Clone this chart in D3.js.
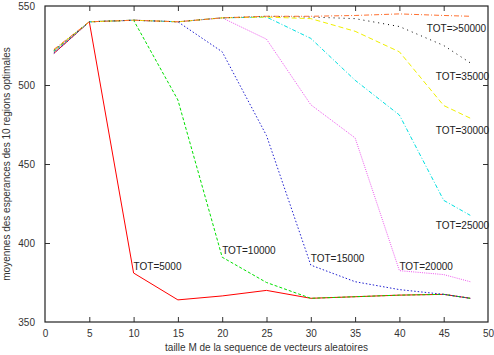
<!DOCTYPE html>
<html>
<head>
<meta charset="utf-8">
<script src="https://cdn.jsdelivr.net/npm/d3@7"></script>
<style>
  html, body { margin: 0; padding: 0; background: #fff; }
  svg { display: block; }
  text { font-family: "Liberation Sans", Arial, sans-serif; }
</style>
</head>
<body>
<svg id="chart" width="494" height="355"></svg>
<script>
// ---- data ----
const xValues = [1, 5, 10, 15, 20, 25, 30, 35, 40, 45, 48];
const seriesNames = ["TOT=5000", "TOT=10000", "TOT=15000", "TOT=20000", "TOT=25000", "TOT=30000", "TOT=35000", "TOT=>50000"];
const tot5000  = [520, 540, 381, 364, 366.5, 370, 365, 366, 367, 367.5, 365];
const tot10000 = [521, 540, 541, 490.5, 391, 375, 365, 366, 367, 367.5, 365];
const tot15000 = [520, 540, 541, 540, 521, 468, 386, 375.5, 370.5, 367.5, 365];
const tot20000 = [521, 540, 541, 540, 542.5, 529, 487.5, 466.5, 382.5, 380, 375.5];
const tot25000 = [521.5, 540, 541, 540, 542.5, 543, 529.5, 503, 481, 427, 417.5];
const tot30000 = [522, 540, 541, 540, 542.5, 543, 542, 534, 521, 487, 479];
const tot35000 = [522, 540, 541, 540, 542.5, 543.5, 543, 542, 537, 525, 514];
const tot50000 = [522.5, 540, 541, 540, 542.5, 543.5, 543.5, 544, 545, 544, 543.5];
const allSeries = [tot5000, tot10000, tot15000, tot20000, tot25000, tot30000, tot35000, tot50000];
const xTicks = [0, 5, 10, 15, 20, 25, 30, 35, 40, 45, 50];
const yTicks = [350, 400, 450, 500, 550];
// label anchors in data coordinates
const labelX = [10, 20, 30, 40, 44.1, 44.1, 44.1, 43.1];
const labelY = [385, 395, 390, 385, 411, 471, 505.5, 536];
const xTitle = "taille M de la sequence de vecteurs aleatoires";
const yTitle = "moyennes des esperances des 10 regions optimales";

// ---- styles ----
const colors = ["#ff0000", "#00e000", "#2020d0", "#ee55ee", "#00e0e0", "#f0f000", "#000000", "#ff7030"];
const dashes = [null, "3,2", "1.5,2", "1,1.2", "4,2,1,2", "5,3", "1,4", "5,2,1,2"];

const svg = d3.select("#chart");
const mLeft = 45, mRight = 488, mTop = 6, mBottom = 322;

const x = d3.scaleLinear().domain([0, 50]).range([mLeft, mRight]);
const y = d3.scaleLinear().domain([350, 550]).range([mBottom, mTop]);

const tickColor = "#333";
const fs = 10;

// axes
const gx = svg.append("g").attr("transform", `translate(0,${mBottom})`)
  .call(d3.axisBottom(x).tickValues(xTicks).tickSize(-5).tickPadding(8).tickFormat(d3.format("d")));
const gxt = svg.append("g").attr("transform", `translate(0,${mTop})`)
  .call(d3.axisTop(x).tickValues(xTicks).tickSize(-5).tickFormat(""));
const gy = svg.append("g").attr("transform", `translate(${mLeft},0)`)
  .call(d3.axisLeft(y).tickValues(yTicks).tickSize(-5).tickPadding(10).tickFormat(d3.format("d")));
const gyr = svg.append("g").attr("transform", `translate(${mRight},0)`)
  .call(d3.axisRight(y).tickValues(yTicks).tickSize(-5).tickFormat(""));

[gx, gxt, gy, gyr].forEach(g => {
  g.select(".domain").remove();
  g.selectAll(".tick line").attr("stroke", tickColor).attr("stroke-width", 1);
  g.selectAll(".tick text").attr("fill", "#333").attr("font-size", fs)
    .attr("font-family", "'Liberation Sans', Arial, sans-serif");
});
[gx, gxt].forEach(g => g.selectAll(".tick").filter(d => d === 0 || d === 50).select("line").remove());
[gy, gyr].forEach(g => g.selectAll(".tick").filter(d => d === 350 || d === 550).select("line").remove());

// frame
svg.append("rect").attr("x", mLeft).attr("y", mTop).attr("width", mRight - mLeft).attr("height", mBottom - mTop)
  .attr("fill", "none").attr("stroke", "#222").attr("stroke-width", 1.2);

// lines
const line = d3.line().x((d, i) => x(xValues[i])).y(d => y(d));
allSeries.forEach((s, k) => {
  svg.append("path").datum(s)
    .attr("d", line)
    .attr("fill", "none")
    .attr("stroke", colors[k])
    .attr("stroke-width", 1)
    .attr("stroke-dasharray", dashes[k]);
});

// labels
seriesNames.forEach((name, k) => {
  svg.append("text")
    .attr("x", x(labelX[k]))
    .attr("y", y(labelY[k]))
    .attr("dy", "0.35em")
    .attr("font-size", fs)
    .attr("fill", "#222")
    .text(name);
});

// axis titles
svg.append("text").attr("x", (mLeft + mRight) / 2).attr("y", 351)
  .attr("text-anchor", "middle").attr("font-size", fs).attr("fill", "#333").text(xTitle);
svg.append("text").attr("transform", `translate(10,${(mTop + mBottom) / 2}) rotate(-90)`)
  .attr("text-anchor", "middle").attr("font-size", fs).attr("fill", "#333").text(yTitle);
</script>
</body>
</html>
